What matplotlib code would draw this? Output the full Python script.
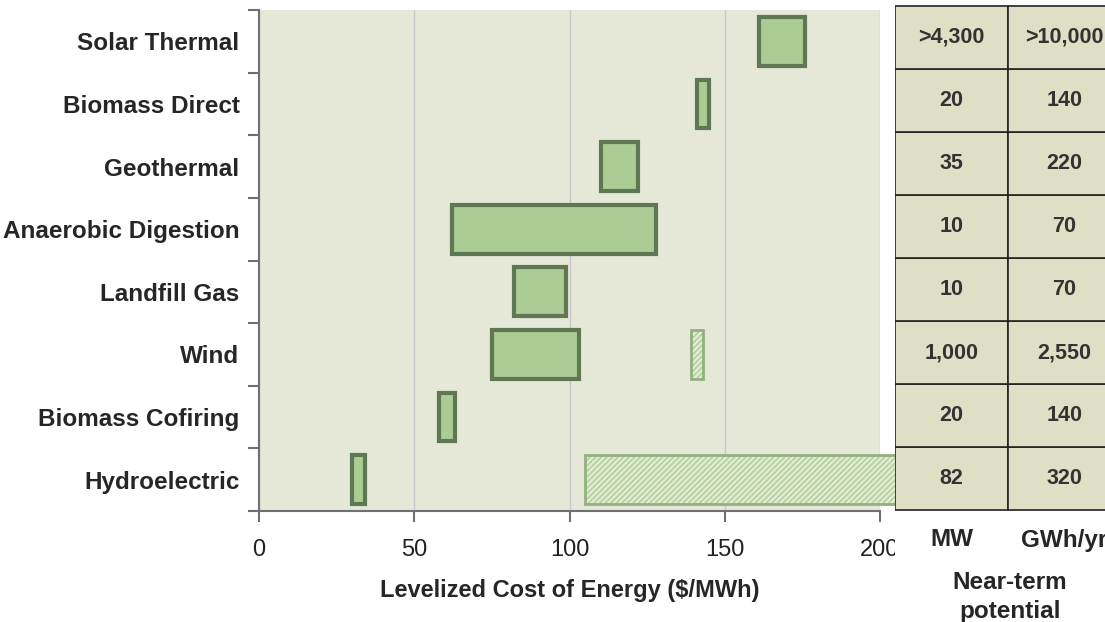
import matplotlib
matplotlib.use("Agg")
import matplotlib.pyplot as plt
from matplotlib.patches import Rectangle

# ---- data ----
categories = ["Hydroelectric", "Biomass Cofiring", "Wind", "Landfill Gas",
              "Anaerobic Digestion", "Geothermal", "Biomass Direct", "Solar Thermal"]
cost_low = [30, 58, 75, 82, 62, 110, 141, 161]
cost_high = [34, 63, 103, 99, 128, 122, 145, 176]
# additional (hatched) ranges
extra_cat = ["Hydroelectric", "Wind"]
extra_low = [105, 139]
extra_high = [205, 143]
mw = ["82", "20", "1,000", "10", "10", "35", "20", ">4,300"]
gwh = ["320", "140", "2,550", "70", "70", "220", "140", ">10,000"]
xticks = [0, 50, 100, 150, 200]
col_heads = ["MW", "GWh/yr"]

plt.rcParams['font.family'] = ['Liberation Sans', 'DejaVu Sans']
plt.rcParams['hatch.linewidth'] = 1.6

W, H = 1105, 622
fig = plt.figure(figsize=(W / 100, H / 100), dpi=100)

def fx(px):
    return px / W

def fy(py):
    return 1 - py / H

# main axes
L, R, T, B = 259, 880, 10, 511
ax = fig.add_axes([fx(L), fy(B), fx(R - L), (B - T) / H])
ax.set_facecolor('#e5e8d6')
ax.set_xlim(0, 200)
n = len(categories)
ax.set_ylim(-0.5, n - 0.5)

solid_face = '#abcc94'
solid_edge = '#5f7752'
hatch_face = '#b5d09e'
hatch_line = '#e2edd6'
hatch_edge = '#93b07f'
bh = 0.78

for i, (lo, hi) in enumerate(zip(cost_low, cost_high)):
    ax.barh(i, hi - lo, left=lo, height=bh, color=solid_face,
            edgecolor=solid_edge, linewidth=3.0, zorder=3)

for c, lo, hi in zip(extra_cat, extra_low, extra_high):
    i = categories.index(c)
    ax.barh(i, hi - lo, left=lo, height=bh, color=hatch_face,
            edgecolor=hatch_line, linewidth=0, hatch='//////', zorder=3,
            clip_on=False)
    ax.barh(i, hi - lo, left=lo, height=bh, fill=False,
            edgecolor=hatch_edge, linewidth=2.0, zorder=3.1, clip_on=False)

# grid
ax.set_xticks(xticks)
ax.xaxis.grid(True, color='#c8c8cc', linewidth=1.0, zorder=0)
ax.set_axisbelow(True)

# spines
for s in ['top', 'right']:
    ax.spines[s].set_visible(False)
for s in ['left', 'bottom']:
    ax.spines[s].set_color('#707070')
    ax.spines[s].set_linewidth(1.5)

ax.set_xticklabels([str(v) for v in xticks], fontsize=17, color='#222222')
ax.tick_params(axis='x', direction='out', length=8, width=1.5, color='#707070', pad=12.5)

ax.set_yticks([k - 0.5 for k in range(n + 1)])
ax.set_yticklabels([])
ax.tick_params(axis='y', which='major', direction='out', length=8, width=1.5, color='#707070')
ax.set_yticks(list(range(n)), minor=True)
ax.set_yticklabels(categories, minor=True, fontsize=17.5, fontweight='bold', color='#262626')
ax.tick_params(axis='y', which='minor', length=0, pad=14)

fig.text(fx((L + R) / 2), fy(590), "Levelized Cost of Energy ($/MWh)", ha='center', va='center',
         fontsize=17, fontweight='bold', color='#262626')

# table panel (white background covering the right side)
TL, TR, TT, TB = 895, 1121, 6, 510
rowh = (TB - TT) / n
panel = fig.add_axes([fx(TL), 0, fx(TR - TL), 1], zorder=5)
panel.set_facecolor('white')
panel.set_xlim(0, 2)
panel.set_ylim(-(H - TB) / rowh, n + TT / rowh)
panel.axis('off')
panel.add_patch(Rectangle((0, -(H - TB) / rowh), 2, H / rowh + 1, facecolor='white',
                          edgecolor='none', zorder=0))
for i in range(n):
    for j, vals in enumerate([mw, gwh]):
        panel.add_patch(Rectangle((j, i), 1, 1, facecolor='#dfdfc6',
                                  edgecolor='#222222', linewidth=1.2, zorder=1))
        panel.text(j + 0.5, i + 0.5, vals[i], ha='center', va='center',
                   fontsize=15.5, fontweight='bold', color='#333333', zorder=2)

fig.text(fx(952), fy(540), col_heads[0], ha='center', va='center', fontsize=17.5,
         fontweight='bold', color='#262626', zorder=10)
fig.text(fx(1064), fy(540), col_heads[1], ha='center', va='center', fontsize=17.5,
         fontweight='bold', color='#262626', zorder=10)
fig.text(fx(1010), fy(597), "Near-term\npotential", ha='center', va='center', fontsize=17.5,
         fontweight='bold', color='#262626', linespacing=1.3, zorder=10)

fig.savefig("out.png", dpi=100)
